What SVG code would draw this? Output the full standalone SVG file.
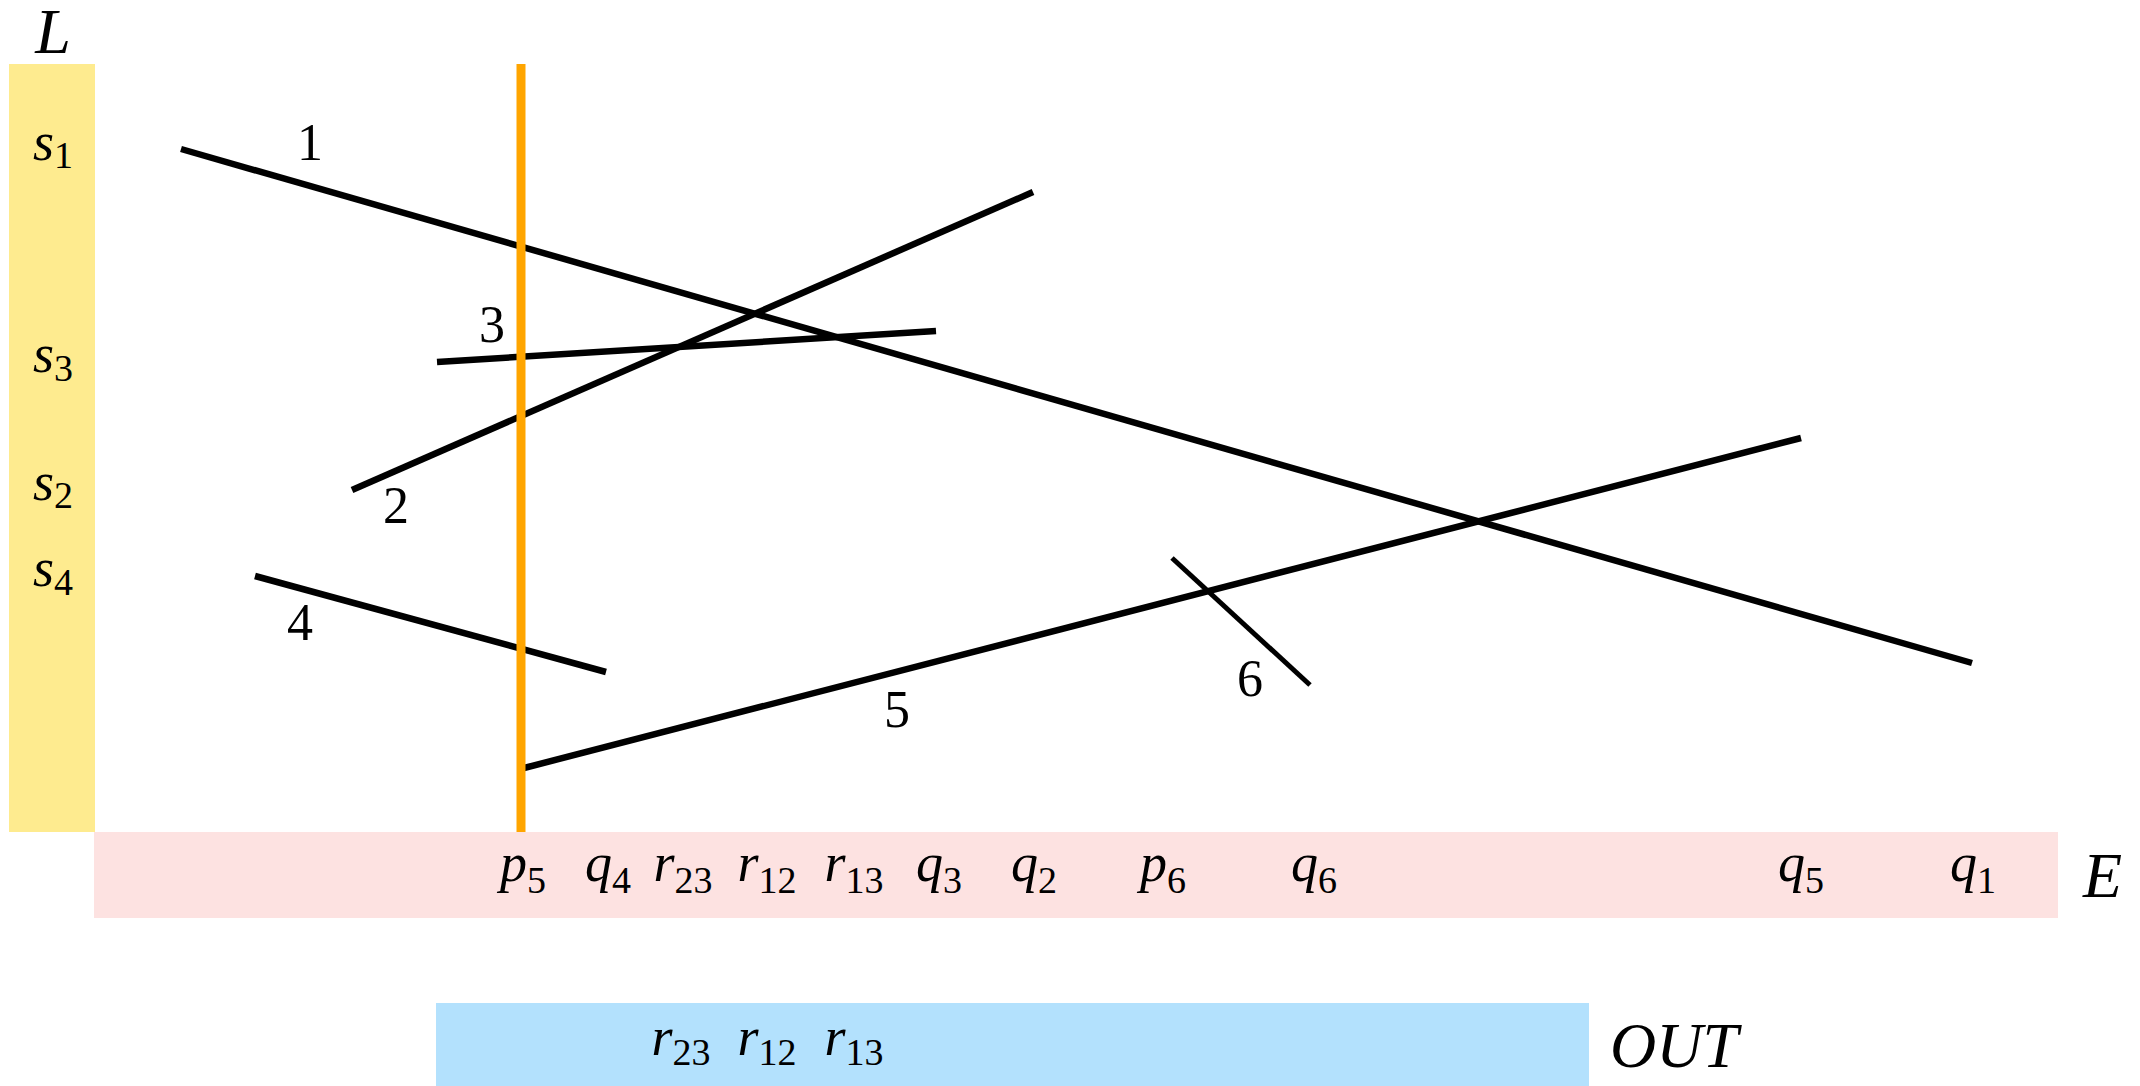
<svg xmlns="http://www.w3.org/2000/svg" width="2140" height="1086" viewBox="0 0 2140 1086">
<style>
text{font-family:"Liberation Serif","DejaVu Serif",serif;fill:#000}
.m{font-style:italic;font-size:54px}
.n{font-size:52px}
.big{font-style:italic;font-size:64px}
.sub{font-style:normal;font-size:38px}
.seg{stroke:#000;stroke-width:6.5;fill:none}
</style>
<rect width="2140" height="1086" fill="#fff"/>
<g id="L-band">
<rect x="9" y="64" width="86" height="768" fill="#FEEB8F"/>
<text class="big" x="53" y="53" text-anchor="middle">L</text>
<text class="m" x="33" y="160">s<tspan class="sub" dy="8">1</tspan></text>
<text class="m" x="33" y="372">s<tspan class="sub" dy="9">3</tspan></text>
<text class="m" x="33" y="500">s<tspan class="sub" dy="8">2</tspan></text>
<text class="m" x="33" y="586">s<tspan class="sub" dy="9">4</tspan></text>
</g>
<g id="E-band">
<rect x="94" y="832" width="1964" height="86" fill="#FDE2E1"/>
<text class="big" x="2083" y="897">E</text>
<text class="m" x="523" y="881" text-anchor="middle">p<tspan class="sub" dy="12">5</tspan></text>
<text class="m" x="608" y="881" text-anchor="middle">q<tspan class="sub" dy="12">4</tspan></text>
<text class="m" x="683" y="881" text-anchor="middle">r<tspan class="sub" dy="12">23</tspan></text>
<text class="m" x="767" y="881" text-anchor="middle">r<tspan class="sub" dy="12">12</tspan></text>
<text class="m" x="854" y="881" text-anchor="middle">r<tspan class="sub" dy="12">13</tspan></text>
<text class="m" x="939" y="881" text-anchor="middle">q<tspan class="sub" dy="12">3</tspan></text>
<text class="m" x="1034" y="881" text-anchor="middle">q<tspan class="sub" dy="12">2</tspan></text>
<text class="m" x="1163" y="881" text-anchor="middle">p<tspan class="sub" dy="12">6</tspan></text>
<text class="m" x="1314" y="881" text-anchor="middle">q<tspan class="sub" dy="12">6</tspan></text>
<text class="m" x="1801" y="881" text-anchor="middle">q<tspan class="sub" dy="12">5</tspan></text>
<text class="m" x="1973" y="881" text-anchor="middle">q<tspan class="sub" dy="12">1</tspan></text>
</g>
<g id="OUT-band">
<rect x="436" y="1003" width="1153" height="83" fill="#B3E1FD"/>
<text class="big" x="1610" y="1067">OUT</text>
<text class="m" x="681" y="1055" text-anchor="middle">r<tspan class="sub" dy="10">23</tspan></text>
<text class="m" x="767" y="1055" text-anchor="middle">r<tspan class="sub" dy="10">12</tspan></text>
<text class="m" x="854" y="1055" text-anchor="middle">r<tspan class="sub" dy="10">13</tspan></text>
</g>
<g id="segments">
<line class="seg" x1="181" y1="149" x2="1972" y2="663"/>
<line class="seg" x1="352" y1="490" x2="1033" y2="192"/>
<line class="seg" x1="437" y1="362" x2="936" y2="331"/>
<line class="seg" x1="255" y1="576" x2="606" y2="672"/>
<line class="seg" x1="524" y1="768" x2="1801" y2="438"/>
<line class="seg" x1="1172" y1="558" x2="1310" y2="685" style="stroke-width:5"/>
<text class="n" x="310" y="160" text-anchor="middle">1</text>
<text class="n" x="396" y="523" text-anchor="middle">2</text>
<text class="n" x="492" y="342" text-anchor="middle">3</text>
<text class="n" x="300" y="640" text-anchor="middle">4</text>
<text class="n" x="897" y="727" text-anchor="middle">5</text>
<text class="n" x="1250" y="696" text-anchor="middle">6</text>
</g>
<g id="sweep-line">
<line x1="521" y1="64" x2="521" y2="832" stroke="#FFA500" stroke-width="9"/>
</g>
</svg>
